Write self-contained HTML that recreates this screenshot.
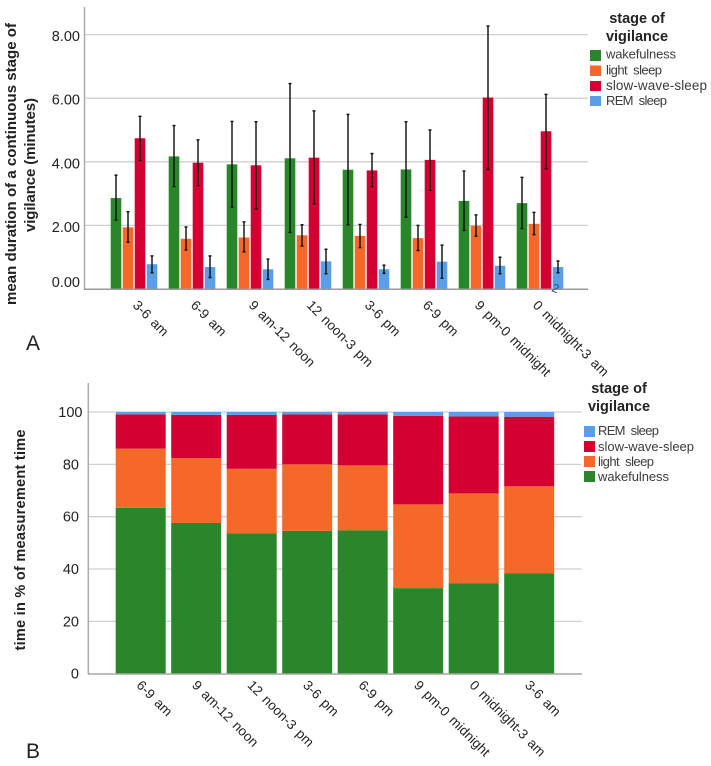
<!DOCTYPE html>
<html lang="en">
<head>
<meta charset="utf-8">
<title>Vigilance stage charts</title>
<style>
html,body{margin:0;padding:0;background:#fff;width:711px;height:766px;overflow:hidden}
svg{display:block;font-family:"Liberation Sans",sans-serif}
text{white-space:pre}
</style>
</head>
<body>
<svg id="figure" xmlns="http://www.w3.org/2000/svg" width="711" height="766" viewBox="0 0 711 766">
  <defs><filter id="soft" x="-2%" y="-2%" width="104%" height="104%"><feGaussianBlur stdDeviation="0.3"/></filter></defs>
  <g id="root" filter="url(#soft)">
    <g id="chartA"></g>
    <g id="chartB"></g>

    <text x="26" y="350" font-size="21" fill="#222">A</text>
    <text x="26" y="758" font-size="21" fill="#222">B</text>

    <text transform="translate(16 164) rotate(-90)" text-anchor="middle" font-size="15" font-weight="bold" fill="#222" textLength="282">mean duration of a continuous stage of</text>
    <text transform="translate(35 165) rotate(-90)" text-anchor="middle" font-size="15" font-weight="bold" fill="#222" textLength="134">vigilance (minutes)</text>
    <text transform="translate(25 540) rotate(-90)" text-anchor="middle" font-size="14.5" font-weight="bold" fill="#222" textLength="221">time in % of measurement time</text>

    <g>
      <text x="637" y="23" text-anchor="middle" font-size="14.5" font-weight="bold" fill="#222">stage of</text>
      <text x="637" y="41" text-anchor="middle" font-size="14.5" font-weight="bold" fill="#222">vigilance</text>
      <rect x="590" y="50" width="11" height="11" fill="#2a8629"/>
      <text x="606" y="58.5" font-size="13" fill="#3a3a3a" textLength="70">wakefulness</text>
      <rect x="590" y="65.5" width="11" height="10.5" fill="#f4692a"/>
      <text x="606" y="74.5" font-size="13" fill="#3a3a3a" textLength="56">light  sleep</text>
      <rect x="590" y="81" width="11" height="10" fill="#d50032"/>
      <text x="606" y="90" font-size="13.5" fill="#3a3a3a" textLength="101">slow-wave-sleep</text>
      <rect x="590" y="96" width="11" height="10" fill="#5a9ee8"/>
      <text x="606" y="105" font-size="13" fill="#3a3a3a" textLength="61">REM  sleep</text>
    </g>

    <g>
      <text x="619" y="393" text-anchor="middle" font-size="14.5" font-weight="bold" fill="#222">stage of</text>
      <text x="619" y="411" text-anchor="middle" font-size="14.5" font-weight="bold" fill="#222">vigilance</text>
      <rect x="584" y="426" width="11" height="11" fill="#5a9ee8"/>
      <text x="598" y="435" font-size="13" fill="#3a3a3a" textLength="61">REM  sleep</text>
      <rect x="584" y="441" width="11" height="11" fill="#d50032"/>
      <text x="598" y="451" font-size="13" fill="#3a3a3a" textLength="96">slow-wave-sleep</text>
      <rect x="584" y="456" width="11" height="11" fill="#f4692a"/>
      <text x="598" y="466" font-size="13" fill="#3a3a3a" textLength="56">light  sleep</text>
      <rect x="584" y="471" width="11" height="11" fill="#2a8629"/>
      <text x="598" y="481" font-size="13" fill="#3a3a3a" textLength="71">wakefulness</text>
    </g>
  </g>
</svg>
<script>
// Panel A data: mean duration (minutes) with error bounds
const categoriesA = ["3-6 am","6-9 am","9 am-12 noon","12 noon-3 pm","3-6 pm","6-9 pm","9 pm-0 midnight","0 midnight-3 am"];
const ticksA = [0,2,4,6,8];
const wakefulnessMean = [2.86,4.17,3.92,4.11,3.75,3.76,2.77,2.70];
const lightSleepMean = [1.94,1.58,1.62,1.69,1.67,1.60,1.99,2.05];
const slowWaveMean = [4.74,3.97,3.89,4.13,3.73,4.06,6.02,4.96];
const remSleepMean = [0.78,0.69,0.62,0.87,0.62,0.86,0.73,0.69];
const wakefulnessHigh = [3.58,5.14,5.27,6.46,5.49,5.26,3.71,3.51];
const wakefulnessLow = [2.17,3.22,2.57,1.78,2.02,2.26,1.84,1.90];
const lightSleepHigh = [2.43,1.95,2.11,2.02,2.03,2.00,2.33,2.41];
const lightSleepLow = [1.47,1.23,1.17,1.35,1.30,1.21,1.66,1.71];
const slowWaveHigh = [5.43,4.69,5.26,5.60,4.26,5.00,8.27,6.12];
const slowWaveLow = [4.04,3.25,2.52,2.68,3.22,3.10,3.76,3.78];
const remSleepHigh = [1.04,1.04,0.94,1.25,0.75,1.38,1.00,0.88];
const remSleepLow = [0.51,0.36,0.30,0.48,0.49,0.34,0.48,0.51];

// Panel B data: share of measurement time (%)
const categoriesB = ["6-9 am","9 am-12 noon","12 noon-3 pm","3-6 pm","6-9 pm","9 pm-0 midnight","0 midnight-3 am","3-6 am"];
const ticksB = [0,20,40,60,80,100];
const wakefulnessShare = [63.4,57.6,53.6,54.6,54.8,32.7,34.6,38.3];
const lightSleepShare = [22.6,24.8,24.7,25.4,24.8,32.0,34.3,33.3];
const slowWaveShare = [13.1,16.5,20.6,19.1,19.5,33.8,29.4,26.6];
const remSleepShare = [0.9,1.1,1.1,0.9,0.9,1.5,1.7,1.8];

const NS = "http://www.w3.org/2000/svg";
const GREEN = "#2a8629", ORANGE = "#f4692a", RED = "#d50032", BLUE = "#5a9ee8";

function make(tag, attrs, parent, txt) {
  const el = document.createElementNS(NS, tag);
  for (const k in attrs) el.setAttribute(k, attrs[k]);
  if (txt !== undefined) el.textContent = txt;
  parent.appendChild(el);
  return el;
}

const chartA = document.getElementById("chartA");
const chartB = document.getElementById("chartB");

// ---------- Panel A ----------
const yA = v => 289 - v * 31.8;
const xGroupA = i => 110.7 + i * 58;
const seriesA = [
  {key:"wakefulness", color:GREEN, mean:wakefulnessMean, hi:wakefulnessHigh, lo:wakefulnessLow},
  {key:"light-sleep", color:ORANGE, mean:lightSleepMean, hi:lightSleepHigh, lo:lightSleepLow},
  {key:"slow-wave-sleep", color:RED, mean:slowWaveMean, hi:slowWaveHigh, lo:slowWaveLow},
  {key:"rem-sleep", color:BLUE, mean:remSleepMean, hi:remSleepHigh, lo:remSleepLow}
];

ticksA.forEach(t => {
  if (t > 0) {
    const g = make("line", {x1:85, x2:588, y1:yA(t), y2:yA(t), stroke:"#cfcfcf", "stroke-width":1.3}, chartA);
    
    
  }
  const lab = make("text", {x:80, y:Math.min(yA(t) + 6.5, 287), "text-anchor":"end", "font-size":14.5, fill:"#222"}, chartA, t.toFixed(2));
  
  
});

seriesA.forEach((s, si) => {
  s.mean.forEach((v, i) => {
    const x = xGroupA(i) + si * 12;
    const bar = make("rect", {x:x, y:yA(v), width:10.6, height:yA(0) - yA(v), fill:s.color}, chartA);
    
    
  });
});

seriesA.forEach((s, si) => {
  s.mean.forEach((v, i) => {
    const cx = xGroupA(i) + si * 12 + 5.3;
    const err = make("g", {stroke:"#111", "stroke-width":1.4}, chartA);
    
    
    make("line", {x1:cx, x2:cx, y1:yA(s.hi[i]), y2:yA(s.lo[i])}, err);
    make("line", {x1:cx - 1.5, x2:cx + 1.5, y1:yA(s.hi[i]), y2:yA(s.hi[i])}, err);
    make("line", {x1:cx - 1.5, x2:cx + 1.5, y1:yA(s.lo[i]), y2:yA(s.lo[i])}, err);
  });
});

const axisYA = make("line", {x1:84.5, x2:84.5, y1:7, y2:289.5, stroke:"#ababab", "stroke-width":1.5}, chartA);


const axisXA = make("line", {x1:84, x2:588, y1:289.3, y2:289.3, stroke:"#9a9a9a", "stroke-width":1.5}, chartA);



categoriesA.forEach((c, i) => {
  const cx = xGroupA(i) + 23.3;
  const px = cx - 2 - (c.length > 12 ? 6 : 0);
  const lab = make("text", {transform:"translate(" + px + " 306) rotate(45)", "font-size":13.5, "word-spacing":2, fill:"#222"}, chartA, c);
  
  
});

const stray = make("text", {transform:"translate(551 291) rotate(20)", "font-size":12, fill:"#23508f"}, chartA, "2");



// ---------- Panel B ----------
const yB = v => 673.7 - v * 2.617;
const xB = i => 115.7 + i * 55.5;
const seriesB = [
  {key:"wakefulness", color:GREEN, vals:wakefulnessShare},
  {key:"light-sleep", color:ORANGE, vals:lightSleepShare},
  {key:"slow-wave-sleep", color:RED, vals:slowWaveShare},
  {key:"rem-sleep", color:BLUE, vals:remSleepShare}
];

ticksB.forEach(t => {
  if (t > 0) {
    const g = make("line", {x1:89, x2:581.7, y1:yB(t), y2:yB(t), stroke:"#cfcfcf", "stroke-width":1.3}, chartB);
    
    
  }
  const lab = make("text", {x:t === 100 ? 82.5 : 79, y:yB(t) + 5, "text-anchor":"end", "font-size":14.5, fill:"#222"}, chartB, String(t));
  
  
});

categoriesB.forEach((c, i) => {
  let cum = 0;
  seriesB.forEach(s => {
    const v = s.vals[i];
    const seg = make("rect", {x:xB(i), y:yB(cum + v), width:50, height:yB(cum) - yB(cum + v), fill:s.color}, chartB);
    
    
    cum += v;
  });
  const lab = make("text", {transform:"translate(" + (xB(i) + 25 - 5) + " 686) rotate(45)", "font-size":13.5, "word-spacing":2, fill:"#222"}, chartB, c);
  
  
});

const axisYB = make("line", {x1:88.3, x2:88.3, y1:383, y2:674, stroke:"#ababab", "stroke-width":1.5}, chartB);


const axisXB = make("line", {x1:88, x2:582, y1:674, y2:674, stroke:"#a5a5a5", "stroke-width":1.5}, chartB);


</script>
</body>
</html>
